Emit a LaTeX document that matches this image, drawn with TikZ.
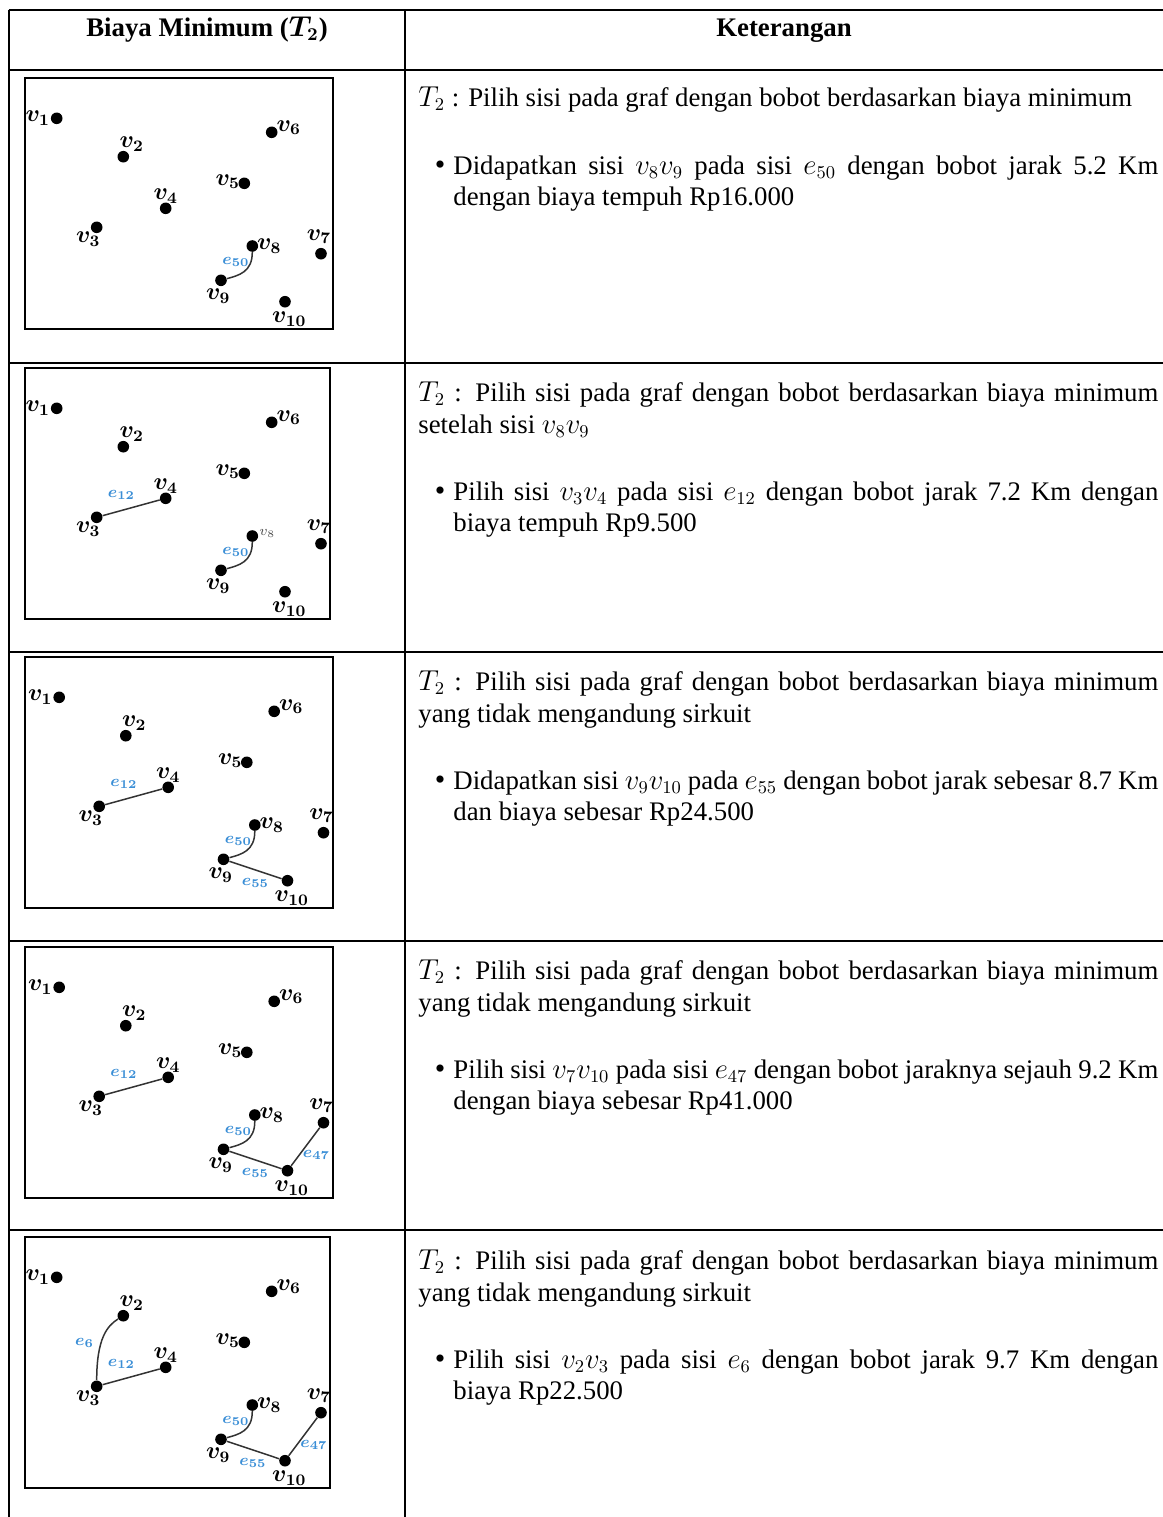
\documentclass[tikz,border=0pt]{standalone}
\usepackage{fontspec}
\setmainfont{Liberation Serif}
\usetikzlibrary{calc}
\definecolor{elabc}{RGB}{58,142,214}
\tikzset{
  tline/.style={line width=1pt, black},
  vdot/.style={circle, fill=black, draw=none, inner sep=0pt, minimum size=5.8pt},
  vlab/.style={inner sep=0pt, font=\fontsize{12}{13}\selectfont\boldmath},
  vlabsmall/.style={inner sep=0pt, text=black!70, font=\fontsize{7.5}{8}\selectfont},
  elab/.style={inner sep=0pt, text=elabc, font=\fontsize{8.5}{9}\selectfont\boldmath},
  gedge/.style={line width=0.75pt, black!80},
  pbox/.style={draw, line width=1pt},
  txt/.style={anchor=base west, inner sep=0pt, font=\fontsize{13.4}{16}\selectfont},
  hdr/.style={anchor=base, inner sep=0pt, font=\fontsize{13.4}{16}\selectfont\bfseries},
}
% prefix, box x, box y, box width, node dx
\newcommand\gpanel[5]{%
  \draw[pbox] (#2,#3) rectangle ++(#4,251);
  \foreach \n/\a/\b in {1/31.7/40.3, 2/98.3/78.7, 3/71.7/149.3, 4/140.7/130.3, 5/219.3/105.3, 6/246.7/54.3, 7/296/175.7, 8/227.3/168, 9/196/202.3, 10/260/223.7}
    \node[vdot] (#1v\n) at (#2+#5+\a, #3+\b) {};
  \foreach \n/\dx/\dy in {1/-19/0, 2/8.4/-12.5, 3/-8.4/12, 4/0/-12, 5/-16.5/-1.6, 6/17/-4.6, 7/-2/-17, 9/-2.7/16, 10/4.3/17.5}
    \node[vlab] (#1l\n) at ([shift={(\dx,\dy)}]#1v\n) {$v_{\n}$};
}
% prefix, x origin (incl. dx), y origin
\newcommand\eFifty[3]{%
  \draw[gedge] (#1v8) .. controls ([shift={(0,26)}]#1v8) and ([shift={(18,-5)}]#1v9) .. (#1v9);
  \node[elab] (#1e50) at (#2+211,#3+183.7) {$e_{50}$};
}
\newcommand\eTwelve[3]{%
  \draw[gedge] (#1v3) -- (#1v4);
  \node[elab] (#1e12) at (#2+96.5,#3+127) {$e_{12}$};
}
\newcommand\eFiftyFive[3]{%
  \draw[gedge] (#1v9) -- (#1v10);
  \node[elab] (#1e55) at (#2+228,#3+226) {$e_{55}$};
}
\newcommand\eFortySeven[3]{%
  \draw[gedge] (#1v10) -- (#1v7);
  \node[elab] (#1e47) at (#2+289,#3+208) {$e_{47}$};
}
\newcommand\eSix[3]{%
  \draw[gedge] (#1v3) .. controls ([shift={(0,-48)}]#1v3) and ([shift={(-16,10)}]#1v2) .. (#1v2);
  \node[elab] (#1e6) at (#2+59.5,#3+105.7) {$e_{6}$};
}
\newcommand\bul{\llap{{\fontsize{15}{16}\selectfont\textbullet}\hspace{4pt}}}
\begin{document}
\begin{tikzpicture}[x=0.5pt,y=-0.5pt]
\useasboundingbox (0,0) rectangle (1163,1517);
% table rules
\draw[tline, line width=1.4pt] (8.5,10) -- (1163,10);
\draw[tline] (9,10) -- (9,1517);
\draw[tline, line width=0.8pt] (405,10) -- (405,1517);
\foreach \yy in {70,363,652,941,1230}
  \draw[tline] (9,\yy) -- (1163,\yy);
% header
\node[hdr] (h1) at (207,36) {Biaya Minimum ({\boldmath$T_2$})};
\node[hdr] (h2) at (784,36) {Keterangan};

% ---------- row 1
\gpanel{a}{25}{78}{308}{0}
\node[vlab] (al8) at ([shift={(17,0)}]av8) {$v_{8}$};
\eFifty{a}{25}{78}
\node[txt] (r1a) at (418,106) {$T_2$ : Pilih sisi pada graf dengan bobot berdasarkan biaya minimum};
\node[txt] (r1b) at (453,174) {\bul\makebox[352.5pt][s]{Didapatkan sisi $v_8v_9$ pada sisi $e_{50}$ dengan bobot jarak 5.2 Km}};
\node[txt] (r1c) at (453,205) {dengan biaya tempuh Rp16.000};

% ---------- row 2
\gpanel{b}{25}{368}{305}{0}
\node[vlabsmall] (bl8) at ([shift={(15,-3)}]bv8) {$v_8$};
\eTwelve{b}{25}{368}
\eFifty{b}{25}{368}
\node[txt] (r2a) at (418,401) {\makebox[370pt][s]{$T_2$ : Pilih sisi pada graf dengan bobot berdasarkan biaya minimum}};
\node[txt] (r2b) at (418,433) {setelah sisi $v_8v_9$};
\node[txt] (r2c) at (453,500) {\bul\makebox[352.5pt][s]{Pilih sisi $v_3v_4$ pada sisi $e_{12}$ dengan bobot jarak 7.2 Km dengan}};
\node[txt] (r2d) at (453,531) {biaya tempuh Rp9.500};

% ---------- row 3
\gpanel{c}{25}{657}{308}{2.5}
\node[vlab] (cl8) at ([shift={(17,0)}]cv8) {$v_{8}$};
\eTwelve{c}{27.5}{657}
\eFifty{c}{27.5}{657}
\eFiftyFive{c}{27.5}{657}
\node[txt] (r3a) at (418,690) {\makebox[370pt][s]{$T_2$ : Pilih sisi pada graf dengan bobot berdasarkan biaya minimum}};
\node[txt] (r3b) at (418,722) {yang tidak mengandung sirkuit};
\node[txt] (r3c) at (453,789) {\bul\makebox[352.5pt][s]{Didapatkan sisi $v_9v_{10}$ pada $e_{55}$ dengan bobot jarak sebesar 8.7 Km}};
\node[txt] (r3d) at (453,820) {dan biaya sebesar Rp24.500};

% ---------- row 4
\gpanel{d}{25}{947}{308}{2.5}
\node[vlab] (dl8) at ([shift={(17,0)}]dv8) {$v_{8}$};
\eTwelve{d}{27.5}{947}
\eFifty{d}{27.5}{947}
\eFiftyFive{d}{27.5}{947}
\eFortySeven{d}{27.5}{947}
\node[txt] (r4a) at (418,979) {\makebox[370pt][s]{$T_2$ : Pilih sisi pada graf dengan bobot berdasarkan biaya minimum}};
\node[txt] (r4b) at (418,1011) {yang tidak mengandung sirkuit};
\node[txt] (r4c) at (453,1078) {\bul\makebox[352.5pt][s]{Pilih sisi $v_7v_{10}$ pada sisi $e_{47}$ dengan bobot jaraknya sejauh 9.2 Km}};
\node[txt] (r4d) at (453,1109) {dengan biaya sebesar Rp41.000};

% ---------- row 5
\gpanel{e}{25}{1237}{305}{0}
\node[vlab] (el8) at ([shift={(17,0)}]ev8) {$v_{8}$};
\eSix{e}{25}{1237}
\eTwelve{e}{25}{1237}
\eFifty{e}{25}{1237}
\eFiftyFive{e}{25}{1237}
\eFortySeven{e}{25}{1237}
\node[txt] (r5a) at (418,1269) {\makebox[370pt][s]{$T_2$ : Pilih sisi pada graf dengan bobot berdasarkan biaya minimum}};
\node[txt] (r5b) at (418,1301) {yang tidak mengandung sirkuit};
\node[txt] (r5c) at (453,1368) {\bul\makebox[352.5pt][s]{Pilih sisi $v_2v_3$ pada sisi $e_6$ dengan bobot jarak 9.7 Km dengan}};
\node[txt] (r5d) at (453,1399) {biaya Rp22.500};
\end{tikzpicture}
\end{document}
